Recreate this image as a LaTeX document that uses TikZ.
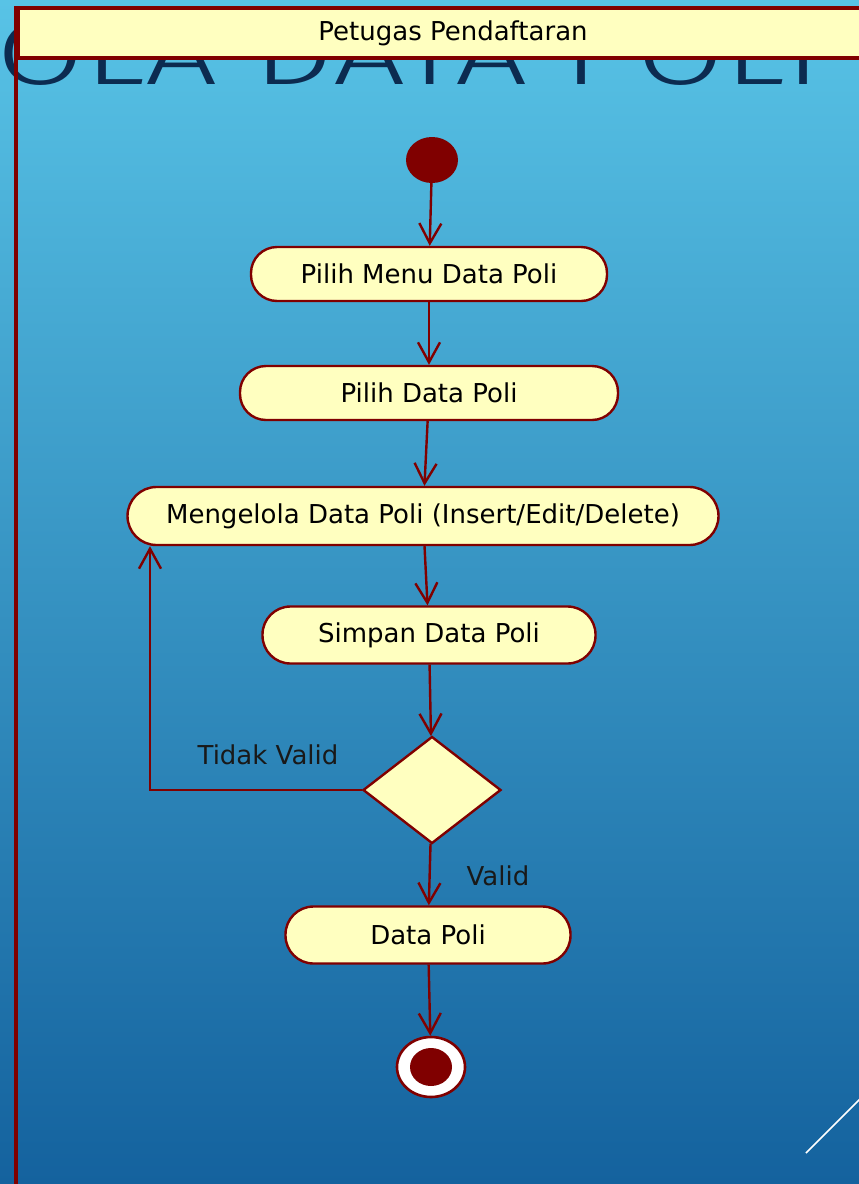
\documentclass[tikz,border=0pt]{standalone}
\usepackage{fontspec}
\setmainfont{DejaVu Sans}
\newfontfamily\titlefont{Fira Sans Light}
\usetikzlibrary{arrows.meta,shapes.geometric}

\definecolor{umlred}{HTML}{800000}
\definecolor{umlyellow}{HTML}{FFFFC0}
\definecolor{bgtop}{HTML}{58C3E6}
\definecolor{bgmid}{HTML}{3A9BC9}
\definecolor{bgbot}{HTML}{14629E}
\definecolor{navy}{HTML}{0C2B50}

\begin{document}
\begin{tikzpicture}[x=1pt,y=-1pt,
  action/.style={draw=umlred, line width=2.4pt, fill=umlyellow, rounded corners=26pt,
    minimum height=54pt, inner sep=0pt, font=\fontsize{26}{30}\selectfont},
  flow/.style={umlred, line width=2.4pt,
    -{Straight Barb[length=20pt,width=22pt,line width=2.4pt]}},
  label/.style={inner sep=0pt, text=black!90, font=\fontsize{26}{30}\selectfont}]
\useasboundingbox (0,0) rectangle (859,1184);
\clip (0,0) rectangle (859,1184);

%slide background
\shade[top color=bgtop, middle color=bgmid, bottom color=bgbot] (0,0) rectangle (859,1184);
\node[anchor=base west, inner sep=0pt, text=navy, xscale=1.42,
  font=\titlefont\fontsize{90}{90}\selectfont] (bgtitle) at (-4,84) {OLA DATA POLI};
\coordinate (slashA) at (806,1153);
\coordinate (slashB) at (872,1087);
\draw[white, line width=1.6pt] (slashA) -- (slashB);

%swimlane
\node[draw=umlred, line width=4pt, fill=umlyellow, anchor=north west,
  minimum width=870pt, minimum height=50pt, inner sep=0pt,
  font=\fontsize{26}{30}\selectfont] (lane) at (16,6) {Petugas Pendaftaran};
\coordinate (laneend) at (16,1190);
\draw[umlred, line width=4pt] (lane.north west) -- (laneend);

%start
\node[ellipse, fill=umlred, minimum width=52pt, minimum height=46pt, inner sep=0pt] (start) at (432,160) {};

%actions
\node[action, minimum width=356pt] (menu) at (429,274) {Pilih Menu Data Poli};
\node[action, minimum width=378pt] (pilih) at (429,393) {Pilih Data Poli};
\node[action, minimum width=591pt, minimum height=58pt, rounded corners=29pt] (kelola) at (423,516) {Mengelola Data Poli (Insert/Edit/Delete)};
\node[action, minimum width=333pt, minimum height=57pt, rounded corners=28pt] (simpan) at (429,635) {Simpan Data Poli};

%decision
\node[diamond, draw=umlred, line width=2.4pt, fill=umlyellow, minimum width=138pt,
  minimum height=107pt, inner sep=0pt] (cek) at (432,790) {};
\node[label] (tidak) at (268,755) {Tidak Valid};
\node[label] (valid) at (498,876) {Valid};

\node[action, minimum width=285pt, minimum height=57pt, rounded corners=28pt] (data) at (428,935) {Data Poli};

%end
\node[ellipse, draw=umlred, line width=2.6pt, fill=white, minimum width=68pt, minimum height=60pt, inner sep=0pt] (end) at (431,1067) {};
\node[ellipse, fill=umlred, minimum width=42pt, minimum height=38pt, inner sep=0pt] (endin) at (end) {};

%flows
\draw[flow] (start) -- (menu);
\draw[flow] (menu) -- (pilih);
\draw[flow] (pilih) -- (kelola);
\draw[flow] (kelola) -- (simpan);
\draw[flow] (simpan) -- (cek);
\draw[flow] (cek) -- (data);
\draw[flow] (data) -- (end);
\coordinate (loop) at (150,790);
\draw[flow] (cek.west) -- (loop) -- (kelola.south -| loop);
\end{tikzpicture}
\end{document}
